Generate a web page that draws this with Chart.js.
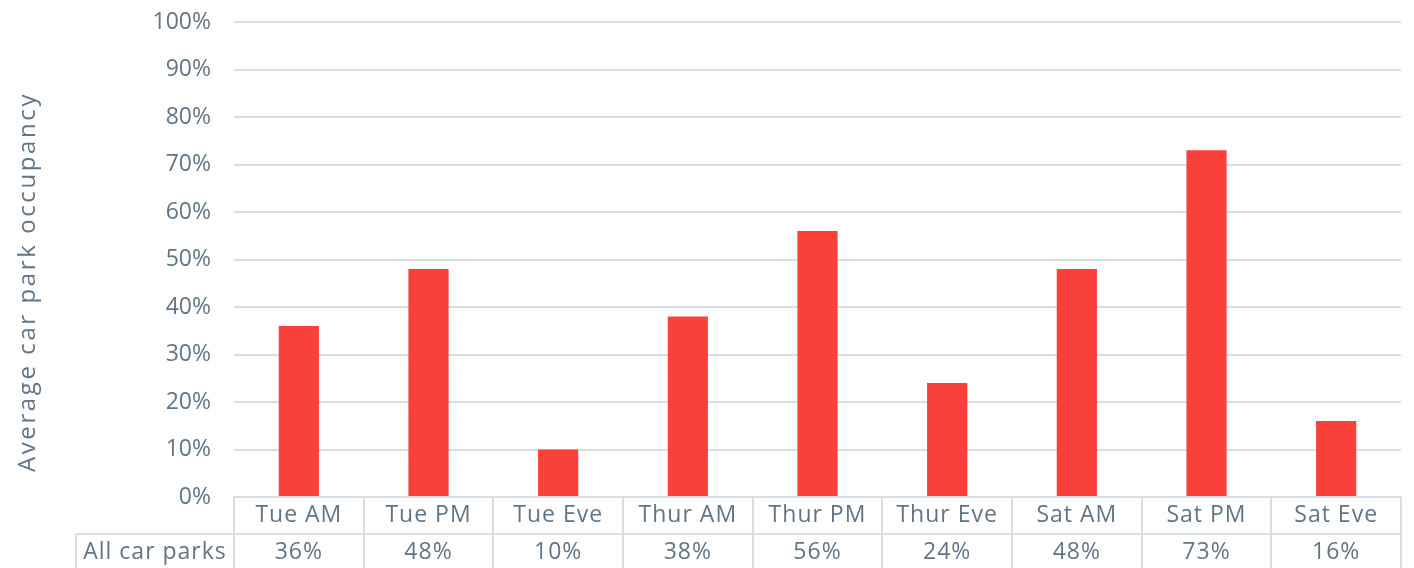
<!DOCTYPE html>
<html>
<head>
<meta charset="utf-8">
<title>Average car park occupancy</title>
<script src="https://cdn.jsdelivr.net/npm/chart.js@4/dist/chart.umd.min.js"></script>
<style>
    html, body { margin: 0; padding: 0; background: #fff; }
    #wrap { width: 1414px; height: 568px; position: relative; }
</style>
</head>
<body>
<div id="wrap"><canvas id="occupancyChart"></canvas></div>
<script>
// Occupancy by survey session
const categories = ['Tue AM', 'Tue PM', 'Tue Eve', 'Thur AM', 'Thur PM', 'Thur Eve', 'Sat AM', 'Sat PM', 'Sat Eve'];
const occupancy = [36, 48, 10, 38, 56, 24, 48, 73, 16];
const rowLabel = 'All car parks';
const axisTitle = 'Average car park occupancy';

const textColor = '#617586';
const lineColor = '#d7dee4';
const barColor = '#fa4139';
const fontFamily = '"Open Sans", sans-serif';

// Data table under the x axis (header row of categories + value row)
const dataTablePlugin = {
    id: 'dataTable',
    afterDraw(chart) {
        const ctx = chart.ctx;
        const x = chart.scales.x;
        const area = chart.chartArea;
        const step = x.width / categories.length;
        const top = area.bottom;
        const mid = top + 37;
        const bottom = chart.height;
        const labelLeft = 76;

        ctx.save();
        ctx.strokeStyle = lineColor;
        ctx.lineWidth = 2;
        ctx.beginPath();
        // horizontal rule between header and values
        ctx.moveTo(labelLeft, mid);
        ctx.lineTo(x.right, mid);
        // left edge of the row label cell
        ctx.moveTo(labelLeft, mid);
        ctx.lineTo(labelLeft, bottom);
        // column separators
        for (let i = 0; i <= categories.length; i++) {
            const px = Math.round(x.left + i * step);
            ctx.moveTo(px, top);
            ctx.lineTo(px, bottom);
        }
        ctx.stroke();

        ctx.fillStyle = textColor;
        ctx.font = '23px ' + fontFamily;
        ctx.letterSpacing = '1px';
        ctx.textAlign = 'center';
        ctx.textBaseline = 'middle';
        categories.forEach((c, i) => {
            const cx = x.getPixelForValue(i);
            ctx.fillText(c, cx, top + 18);
            ctx.fillText(occupancy[i] + '%', cx, mid + 18);
        });
        ctx.fillText(rowLabel, (labelLeft + x.left) / 2, mid + 18);
        ctx.restore();
    }
};

// Rotated y axis title
const axisTitlePlugin = {
    id: 'axisTitle',
    afterDraw(chart) {
        const ctx = chart.ctx;
        ctx.save();
        ctx.translate(28, 282);
        ctx.rotate(-Math.PI / 2);
        ctx.fillStyle = textColor;
        ctx.font = '24px ' + fontFamily;
        ctx.letterSpacing = '2.6px';
        ctx.textAlign = 'center';
        ctx.textBaseline = 'middle';
        ctx.fillText(axisTitle, 0, 0);
        ctx.restore();
    }
};

const ctx = document.getElementById('occupancyChart').getContext('2d');
new Chart(ctx, {
    type: 'bar',
    data: {
        labels: categories,
        datasets: [{
            label: rowLabel,
            data: occupancy,
            backgroundColor: barColor,
            borderWidth: 0,
            barPercentage: 0.31,
            categoryPercentage: 1
        }]
    },
    options: {
        responsive: true,
        maintainAspectRatio: false,
        animation: false,
        layout: {
            padding: { top: 22, right: 13, bottom: 71, left: 0 }
        },
        plugins: {
            legend: { display: false },
            tooltip: { enabled: false }
        },
        scales: {
            x: {
                display: false
            },
            y: {
                min: 0,
                max: 100,
                afterFit(scale) {
                    scale.width = 234;
                    scale.paddingTop = 0;
                    scale.paddingBottom = 0;
                },
                border: { display: false },
                grid: { color: lineColor, lineWidth: 2, drawTicks: false },
                ticks: {
                    stepSize: 10,
                    padding: 23,
                    color: textColor,
                    font: { family: fontFamily, size: 23 },
                    callback: v => v + '%'
                }
            }
        }
    },
    plugins: [dataTablePlugin, axisTitlePlugin]
});
</script>
</body>
</html>
